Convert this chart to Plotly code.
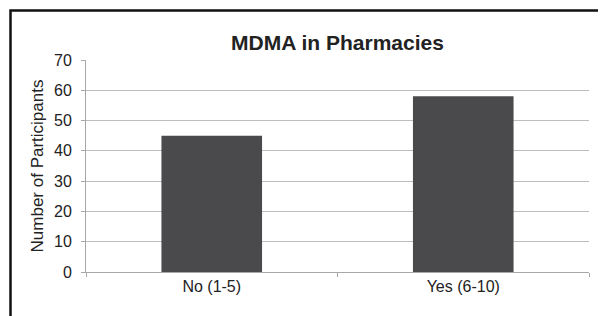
import plotly.graph_objects as go

categories = ["No (1-5)", "Yes (6-10)"]
participants = [45, 58]
y_ticks = [0, 10, 20, 30, 40, 50, 60, 70]
chart_title = "MDMA in Pharmacies"
y_title = "Number of Participants"

# page body has an 8px margin, so the figure is sized to fit the window
W, H = 598, 308
OFF = 8
L, R, T, B = 86 - OFF, 17, 60 - OFF, 44
PW, PH = W - L - R, H - T - B

fig = go.Figure(go.Bar(
    x=categories,
    y=participants,
    marker=dict(color="#4a4a4c", line=dict(width=0)),
))

fig.update_layout(
    width=W, height=H,
    margin=dict(l=L, r=R, t=T, b=B),
    paper_bgcolor="white", plot_bgcolor="white",
    bargap=0.6,
    showlegend=False,
    font=dict(family="Liberation Sans, Arial, sans-serif", color="#222222"),
    title=dict(text="<b>" + chart_title + "</b>", x=0.5, xref="paper", xanchor="center",
               y=1 - 27 / H, yref="container", yanchor="top",
               font=dict(size=21, color="#222222")),
)

fig.update_xaxes(
    showgrid=False, showline=True, linecolor="#a8a8a8", linewidth=1,
    ticks="outside", tickson="boundaries", ticklen=4, tickcolor="#a8a8a8",
    tickfont=dict(size=16, color="#222222"),
)
fig.update_yaxes(
    range=[0, 70], tickvals=y_ticks, showgrid=True, gridcolor="#bdbdbd", gridwidth=1.2,
    showline=True, linecolor="#a8a8a8", linewidth=1,
    ticks="outside", ticklen=4, tickcolor="#a8a8a8",
    tickfont=dict(size=16, color="#222222"), zeroline=False,
    ticklabelstandoff=6,
    title=dict(text=y_title, font=dict(size=17, color="#222222"), standoff=6),
)

# outer frame (black border at top and left, extending beyond the canvas)
fig.add_shape(type="rect", xref="paper", yref="paper",
              x0=(10.5 - 86) / PW, x1=(640 - 86) / PW,
              y0=(272 - 340) / PH, y1=(272 - 10.5) / PH,
              line=dict(color="#111111", width=2.5), fillcolor="rgba(0,0,0,0)", layer="below")

fig.write_html("out.html")
